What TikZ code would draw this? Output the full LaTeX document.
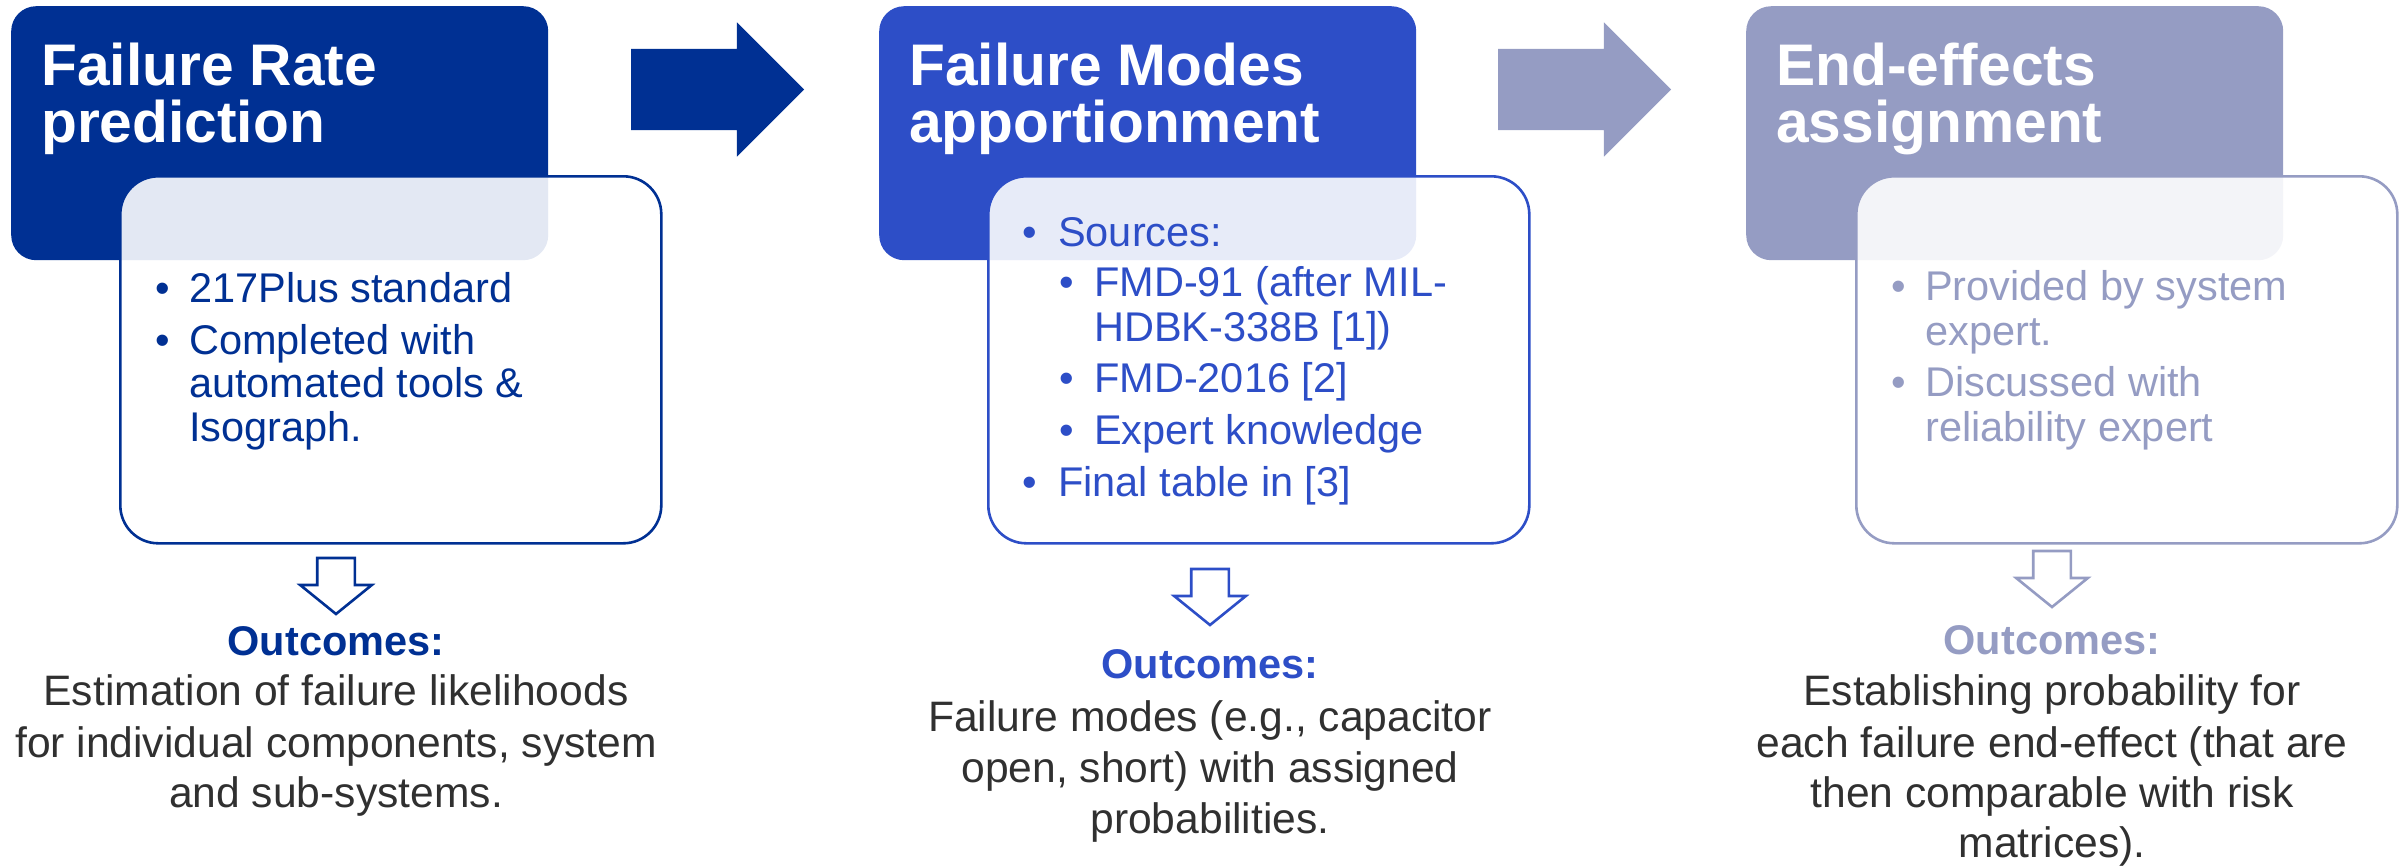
\documentclass[tikz,border=0pt]{standalone}
\usepackage{fontspec}
\setmainfont{Liberation Sans}
\usetikzlibrary{shapes.arrows}

\definecolor{navy}{RGB}{0,48,147}
\definecolor{royal}{RGB}{45,78,199}
\definecolor{haze}{RGB}{149,156,195}
\definecolor{ink}{RGB}{48,48,48}

\tikzset{
  head/.style={fill=#1, rounded corners=25pt, minimum width=537pt, minimum height=254pt,
    anchor=north west, inner sep=0pt},
  card/.style={draw=#1, line width=2.6pt, fill=white, fill opacity=0.89, rounded corners=38pt,
    minimum width=541pt, minimum height=367pt, anchor=north west, inner sep=0pt},
  htext/.style={anchor=base west, inner sep=0pt, text=white,
    font=\fontsize{58.7}{60}\selectfont\bfseries},
  btext/.style={anchor=base west, inner sep=0pt, text=#1,
    font=\fontsize{41.5}{44}\selectfont},
  otitle/.style={anchor=base, inner sep=0pt, text=#1,
    font=\fontsize{41.5}{44}\selectfont\bfseries},
  obody/.style={anchor=base, inner sep=0pt, text=ink,
    font=\fontsize{42.6}{44}\selectfont},
  flow/.style={single arrow, fill=#1, draw=none, single arrow tip angle=90,
    single arrow head extend=26.5pt, minimum height=173pt, inner xsep=0pt,
    inner ysep=40.5pt, outer sep=0pt, anchor=tail},
  drop/.style={single arrow, draw=#1, fill=white, line width=2.6pt, rotate=-90,
    single arrow tip angle=102, single arrow head extend=17pt, minimum height=56pt,
    inner xsep=0pt, inner ysep=17.5pt, outer sep=0pt, anchor=tail},
}

\begin{document}
\begin{tikzpicture}[x=1pt,y=-1pt]
\useasboundingbox (0,0) rectangle (2405,865);

% ---- stage headers ----
\node[head=navy]  (h1) at (11,6) {};
\node[head=royal] (h2) at (879,6) {};
\node[head=haze]  (h3) at (1746,6) {};

\node[htext] (h1a) at (41,85)  {Failure Rate};
\node[htext] (h1b) at (41,142) {prediction};
\node[htext] (h2a) at (909,85)  {Failure Modes};
\node[htext] (h2b) at (909,142) {apportionment};
\node[htext] (h3a) at (1776,85)  {End-effects};
\node[htext] (h3b) at (1776,142) {assignment};

% ---- flow arrows between stages ----
\node[flow=navy] (f1) at (631,89.5) {};
\node[flow=haze] (f2) at (1498,89.5) {};

% ---- detail cards ----
\node[card=navy]  (c1) at (119,175) {};
\node[card=royal] (c2) at (987,175) {};
\node[card=haze]  (c3) at (1855,175) {};

% card 1
\node[btext=navy] (c1d1) at (155,302) {•};
\node[btext=navy] (c1l1) at (189,302) {217Plus standard};
\node[btext=navy] (c1d2) at (155,354) {•};
\node[btext=navy] (c1l2) at (189,354) {Completed with};
\node[btext=navy] (c1l3) at (189,397) {automated tools \&};
\node[btext=navy] (c1l4) at (189,441) {Isograph.};

% card 2
\node[btext=royal] (c2d1) at (1022,246) {•};
\node[btext=royal] (c2l1) at (1058,246) {Sources:};
\node[btext=royal] (c2d2) at (1059,296) {•};
\node[btext=royal] (c2l2) at (1094,296) {FMD-91 (after MIL-};
\node[btext=royal] (c2l3) at (1094,341) {HDBK-338B [1])};
\node[btext=royal] (c2d3) at (1059,392) {•};
\node[btext=royal] (c2l4) at (1094,392) {FMD-2016 [2]};
\node[btext=royal] (c2d4) at (1059,444) {•};
\node[btext=royal] (c2l5) at (1094,444) {Expert knowledge};
\node[btext=royal] (c2d5) at (1022,496) {•};
\node[btext=royal] (c2l6) at (1058,496) {Final table in [3]};

% card 3
\node[btext=haze] (c3d1) at (1891,300) {•};
\node[btext=haze] (c3l1) at (1925,300) {Provided by system};
\node[btext=haze] (c3l2) at (1925,345) {expert.};
\node[btext=haze] (c3d2) at (1891,396) {•};
\node[btext=haze] (c3l3) at (1925,396) {Discussed with};
\node[btext=haze] (c3l4) at (1925,441) {reliability expert};

% ---- outcome arrows ----
\node[drop=navy]  (d1) at (336,558) {};
\node[drop=royal] (d2) at (1210,569) {};
\node[drop=haze]  (d3) at (2052,551) {};

% ---- outcomes ----
\node[otitle=navy] (o1) at (336,655) {Outcomes:};
\node[obody] (o1a) at (336,705) {Estimation of failure likelihoods};
\node[obody] (o1b) at (336,757) {for individual components, system};
\node[obody] (o1c) at (336,807) {and sub-systems.};

\node[otitle=royal] (o2) at (1210,678) {Outcomes:};
\node[obody] (o2a) at (1210,731) {Failure modes (e.g., capacitor};
\node[obody] (o2b) at (1210,782) {open, short) with assigned};
\node[obody] (o2c) at (1210,833) {probabilities.};

\node[otitle=haze] (o3) at (2052,654) {Outcomes:};
\node[obody] (o3a) at (2052,705) {Establishing probability for};
\node[obody] (o3b) at (2052,757) {each failure end-effect (that are};
\node[obody] (o3c) at (2052,807) {then comparable with risk};
\node[obody] (o3d) at (2052,857) {matrices).};
\end{tikzpicture}
\end{document}
